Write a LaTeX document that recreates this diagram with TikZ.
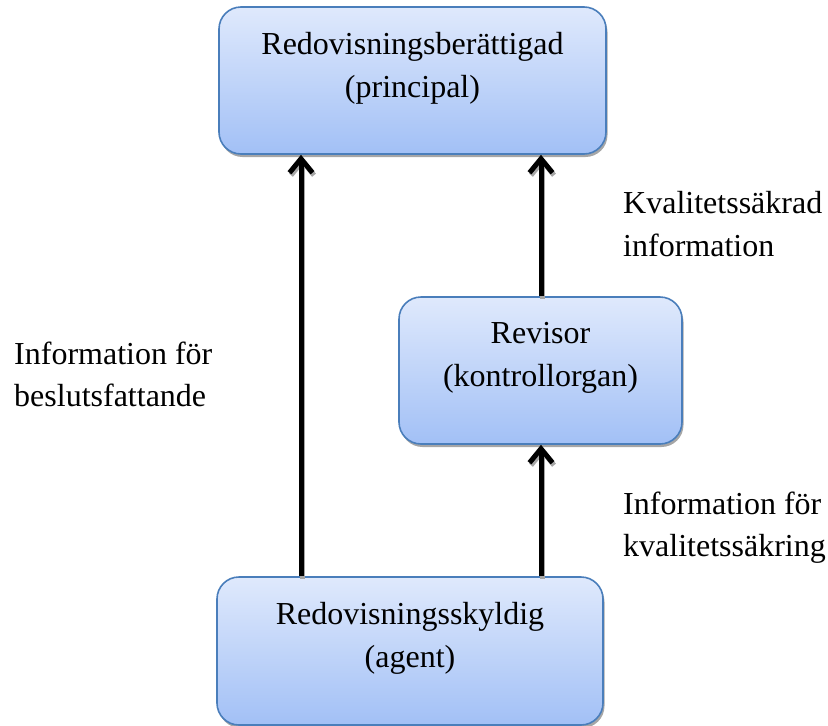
\documentclass[tikz,border=0pt]{standalone}
\usepackage{fontspec}
\setmainfont{Liberation Serif}
\usetikzlibrary{arrows.meta,shadows}
\definecolor{boxtop}{HTML}{DFE9FC}
\definecolor{boxbot}{HTML}{A2C0F6}
\definecolor{boxline}{HTML}{4A7EBB}
\begin{document}
\begin{tikzpicture}[x=1pt,y=-1pt,
  box/.style={draw=boxline, line width=1.6pt, rounded corners=22pt,
    top color=boxtop, bottom color=boxbot, inner sep=0pt,
    drop shadow={shadow xshift=1.5pt, shadow yshift=-3pt, fill=black, opacity=0.35}},
  boxtext/.style={align=center, anchor=north, inner sep=0pt,
    font=\fontsize{32}{43}\selectfont},
  lbl/.style={align=left, anchor=north west, inner sep=0pt,
    font=\fontsize{32}{42.5}\selectfont},
  arr/.style={line width=5pt, -{Straight Barb[length=14pt,width=23pt]}},
  arrshadow/.style={arr, draw=black!35, transform canvas={shift={(1.5pt,-2.5pt)}}}]
  \useasboundingbox (0,0) rectangle (828,726);

  % boxes
  \node[box, minimum width=387pt, minimum height=147pt] (principal) at (412.5,80.5) {};
  \node[box, minimum width=283pt, minimum height=147pt] (revisor) at (540.5,370.5) {};
  \node[box, minimum width=386pt, minimum height=148pt] (agent) at (410,651) {};

  % box texts
  \node[boxtext] (principaltxt) at (412.5,32.3) {Redovisningsberättigad\\(principal)};
  \node[boxtext] (revisortxt) at (540.5,322.3) {Revisor\\(kontrollorgan)};
  \node[boxtext] (agenttxt) at (410,602.3) {Redovisningsskyldig\\(agent)};

  % x positions of the connectors
  \coordinate (xa) at (301,0);
  \coordinate (xb) at (541,0);

  % connector shadows
  \draw[arrshadow] (agent.north -| xa) -- (principal.south -| xa);
  \draw[arrshadow] (agent.north -| xb) -- (revisor.south -| xb);
  \draw[arrshadow] (revisor.north -| xb) -- (principal.south -| xb);

  % connectors
  \draw[arr] (agent.north -| xa) -- (principal.south -| xa);
  \draw[arr] (agent.north -| xb) -- (revisor.south -| xb);
  \draw[arr] (revisor.north -| xb) -- (principal.south -| xb);

  % connector labels
  \node[lbl] (lblq) at (623,191.3) {Kvalitetssäkrad\\information};
  \node[lbl] (lbld) at (14,341.3) {Information för\\beslutsfattande};
  \node[lbl] (lblk) at (623,491.3) {Information för\\kvalitetssäkring};
\end{tikzpicture}
\end{document}
